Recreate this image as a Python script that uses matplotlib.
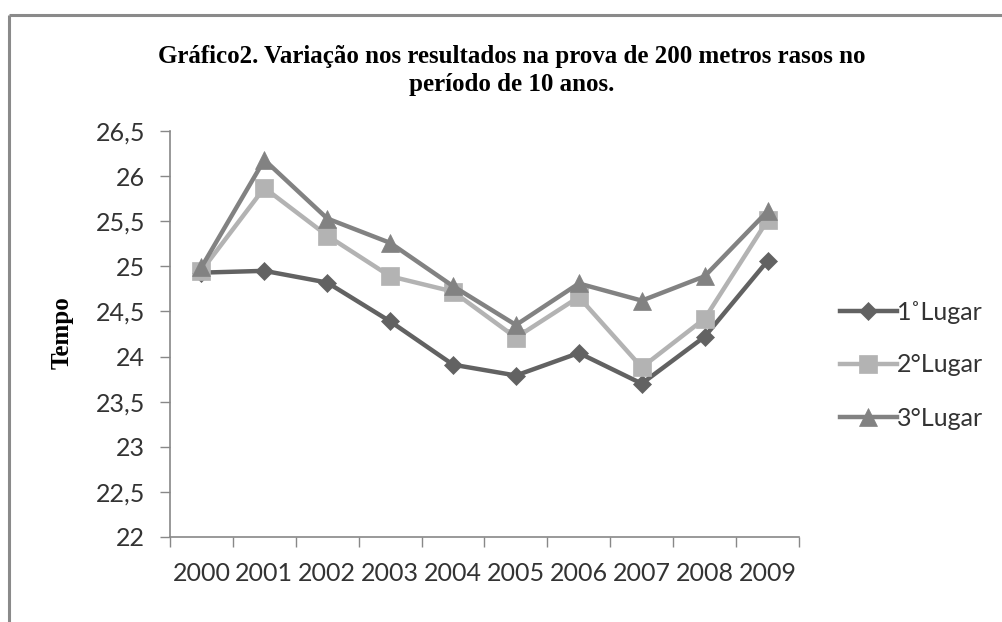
import matplotlib
matplotlib.use("Agg")
import matplotlib.pyplot as plt
from matplotlib.lines import Line2D
import numpy as np

# Data: 200 m race times per year for the top three places
anos = ["2000", "2001", "2002", "2003", "2004", "2005", "2006", "2007", "2008", "2009"]
primeiro = [24.93, 24.95, 24.82, 24.39, 23.91, 23.79, 24.04, 23.70, 24.22, 25.06]
segundo = [24.95, 25.87, 25.34, 24.89, 24.72, 24.21, 24.66, 23.88, 24.42, 25.51]
terceiro = [24.99, 26.18, 25.53, 25.26, 24.78, 24.35, 24.81, 24.62, 24.89, 25.61]
rotulos = ["1˚Lugar", "2°Lugar", "3°Lugar"]
y_ticks = [22, 22.5, 23, 23.5, 24, 24.5, 25, 25.5, 26, 26.5]

W, H = 1003, 622
fig = plt.figure(figsize=(W / 100, H / 100), dpi=100)
fig.patch.set_facecolor("white")

ax = fig.add_axes([170 / W, (H - 537) / H, 629 / W, (537 - 131) / H])

sans = ["Lato", "DejaVu Sans"]
serif = ["Liberation Serif", "DejaVu Serif"]
txt_color = "#333333"
axis_color = "#888888"

x = np.arange(len(anos))
series = [
    (primeiro, "#626262", "D", 9.0),
    (segundo, "#b3b3b3", "s", 12.5),
    (terceiro, "#828282", "^", 13.0),
]
handles = []
for vals, col, mk, ms in series:
    (ln,) = ax.plot(x, vals, color=col, lw=3.2, marker=mk, ms=ms,
                    markerfacecolor=col, markeredgecolor=col, mew=0.5,
                    solid_joinstyle="miter")
    handles.append(ln)

ax.set_xlim(-0.5, len(anos) - 0.5)
ax.set_ylim(22, 26.5)

# Category axis: tick marks between categories, labels centered
ax.set_xticks(np.arange(-0.5, len(anos), 1.0))
ax.set_xticklabels([])
ax.set_xticks(x, minor=True)
ax.set_xticklabels(anos, minor=True, fontfamily=sans, fontsize=18, color=txt_color)
ax.tick_params(axis="x", which="major", direction="out", length=7, width=1, color=axis_color)
ax.tick_params(axis="x", which="minor", length=0, pad=18)

ax.set_yticks(y_ticks)
ax.set_yticklabels([f"{v:g}".replace(".", ",") for v in y_ticks],
                   fontfamily=sans, fontsize=18, color=txt_color)
ax.tick_params(axis="y", direction="out", length=7, width=1, color=axis_color, pad=11)

for side in ("top", "right"):
    ax.spines[side].set_visible(False)
for side in ("left", "bottom"):
    ax.spines[side].set_color(axis_color)
    ax.spines[side].set_linewidth(1.2)

fig.text(512 / W, 1 - 56 / H, "Gráfico2. Variação nos resultados na prova de 200 metros rasos no",
         ha="center", va="center", fontfamily=serif, fontweight="bold", fontsize=18, color="black")
fig.text(512 / W, 1 - 84 / H, "período de 10 anos.",
         ha="center", va="center", fontfamily=serif, fontweight="bold", fontsize=18, color="black")

fig.text(62 / W, 1 - 333 / H, "Tempo", rotation=90, ha="center", va="center",
         fontfamily=serif, fontweight="bold", fontsize=18, color="black")

leg = fig.legend(handles, rotulos, loc="center left", bbox_to_anchor=(817 / W, 1 - 365 / H),
                 frameon=False, prop={"family": sans, "size": 18}, handlelength=2.28,
                 handletextpad=0.0, labelspacing=1.2, labelcolor=txt_color)

# Outer chart frame (top and left edges)
fig.add_artist(Line2D([9 / W, 1.0], [1 - 15 / H, 1 - 15 / H], transform=fig.transFigure,
                      color="#8a8a8a", lw=2.2, solid_capstyle="butt"))
fig.add_artist(Line2D([9 / W, 9 / W], [1 - 15 / H, 0.0], transform=fig.transFigure,
                      color="#8a8a8a", lw=2.2, solid_capstyle="butt"))

fig.savefig("out.png", dpi=100, facecolor="white")
